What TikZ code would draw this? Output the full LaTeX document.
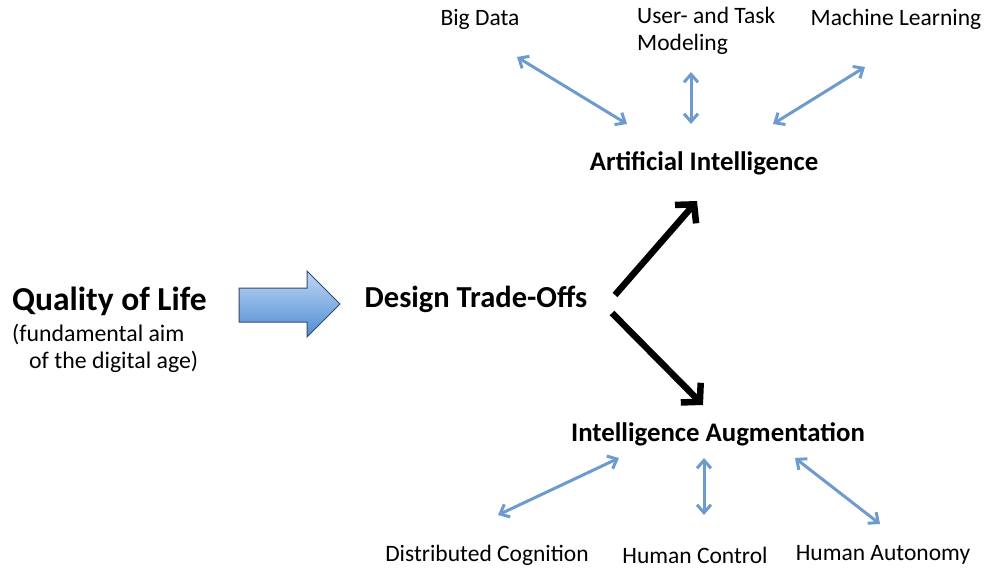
\documentclass[tikz,border=0pt]{standalone}
\usepackage{fontspec}
\setmainfont{Carlito}
\usetikzlibrary{arrows.meta,shapes.arrows}
\definecolor{linkblue}{RGB}{110,155,205}
\definecolor{arrowtop}{RGB}{190,215,245}
\definecolor{arrowbot}{RGB}{80,140,210}
\definecolor{arrowedge}{RGB}{55,75,105}
\tikzset{
  lbl/.style={font=\fontsize{23.5}{27}\selectfont, inner sep=0pt},
  hub/.style={font=\bfseries\fontsize{26.8}{31}\selectfont, inner sep=0pt},
  link/.style={draw=linkblue, line width=3pt, {Straight Barb[length=8pt,width=14pt]}-{Straight Barb[length=8pt,width=14pt]}},
  branch/.style={draw=black, line width=6.5pt, -{Straight Barb[length=13pt,width=28pt]}},
}
\begin{document}
\begin{tikzpicture}[x=1pt,y=-1pt]
\useasboundingbox (0,0) rectangle (984,567);

% labels
\node[lbl] (bd) at (480,19) {Big Data};
\node[lbl, align=left, anchor=north west] (ut) at (637,7) {User- and Task\\Modeling};
\node[lbl] (ml) at (896,19) {Machine Learning};
\node[hub] (ai) at (704,163) {Artificial Intelligence};
\node[font=\bfseries\fontsize{30.5}{36}\selectfont, inner sep=0pt] (dt) at (476,299) {Design Trade-Offs};
\node[font=\bfseries\fontsize{33.5}{40}\selectfont, inner sep=0pt, anchor=west] (ql) at (12,301) {Quality of Life};
\node[font=\fontsize{23.8}{26.5}\selectfont, inner sep=0pt, align=left, anchor=north west] (sub) at (12,324) {(fundamental aim\\\hspace*{17pt}of the digital age)};
\node[hub] (ia) at (718,434) {Intelligence Augmentation};
\node[lbl] (dc) at (487,555) {Distributed Cognition};
\node[lbl] (hc) at (695,555) {Human Control};
\node[lbl] (ha) at (883,555) {Human Autonomy};

% connector end points
\coordinate (bdA) at (517,57);  \coordinate (bdB) at (627,124);
\coordinate (utA) at (691,72);  \coordinate (utB) at (691,124);
\coordinate (mlA) at (865,67);  \coordinate (mlB) at (773,124);
\coordinate (dcA) at (619,458); \coordinate (dcB) at (498,515);
\coordinate (hcA) at (704,458); \coordinate (hcB) at (704,515);
\coordinate (haA) at (795,458); \coordinate (haB) at (880,524);
\coordinate (upS) at (615,295); \coordinate (upE) at (697,201);
\coordinate (dnS) at (612,313); \coordinate (dnE) at (703,405);

\draw[link] (bdA) -- (bdB);
\draw[link] (utA) -- (utB);
\draw[link] (mlA) -- (mlB);
\draw[link] (dcA) -- (dcB);
\draw[link] (hcA) -- (hcB);
\draw[link] (haA) -- (haB);

\draw[branch] (upS) -- (upE);
\draw[branch] (dnS) -- (dnE);

% big block arrow
\draw[draw=arrowedge, line width=1pt, top color=arrowtop, bottom color=arrowbot]
  (239,288) -- (307,288) -- (307,271) -- (340,304) -- (307,337) -- (307,322) -- (239,322) -- cycle;
\end{tikzpicture}
\end{document}
